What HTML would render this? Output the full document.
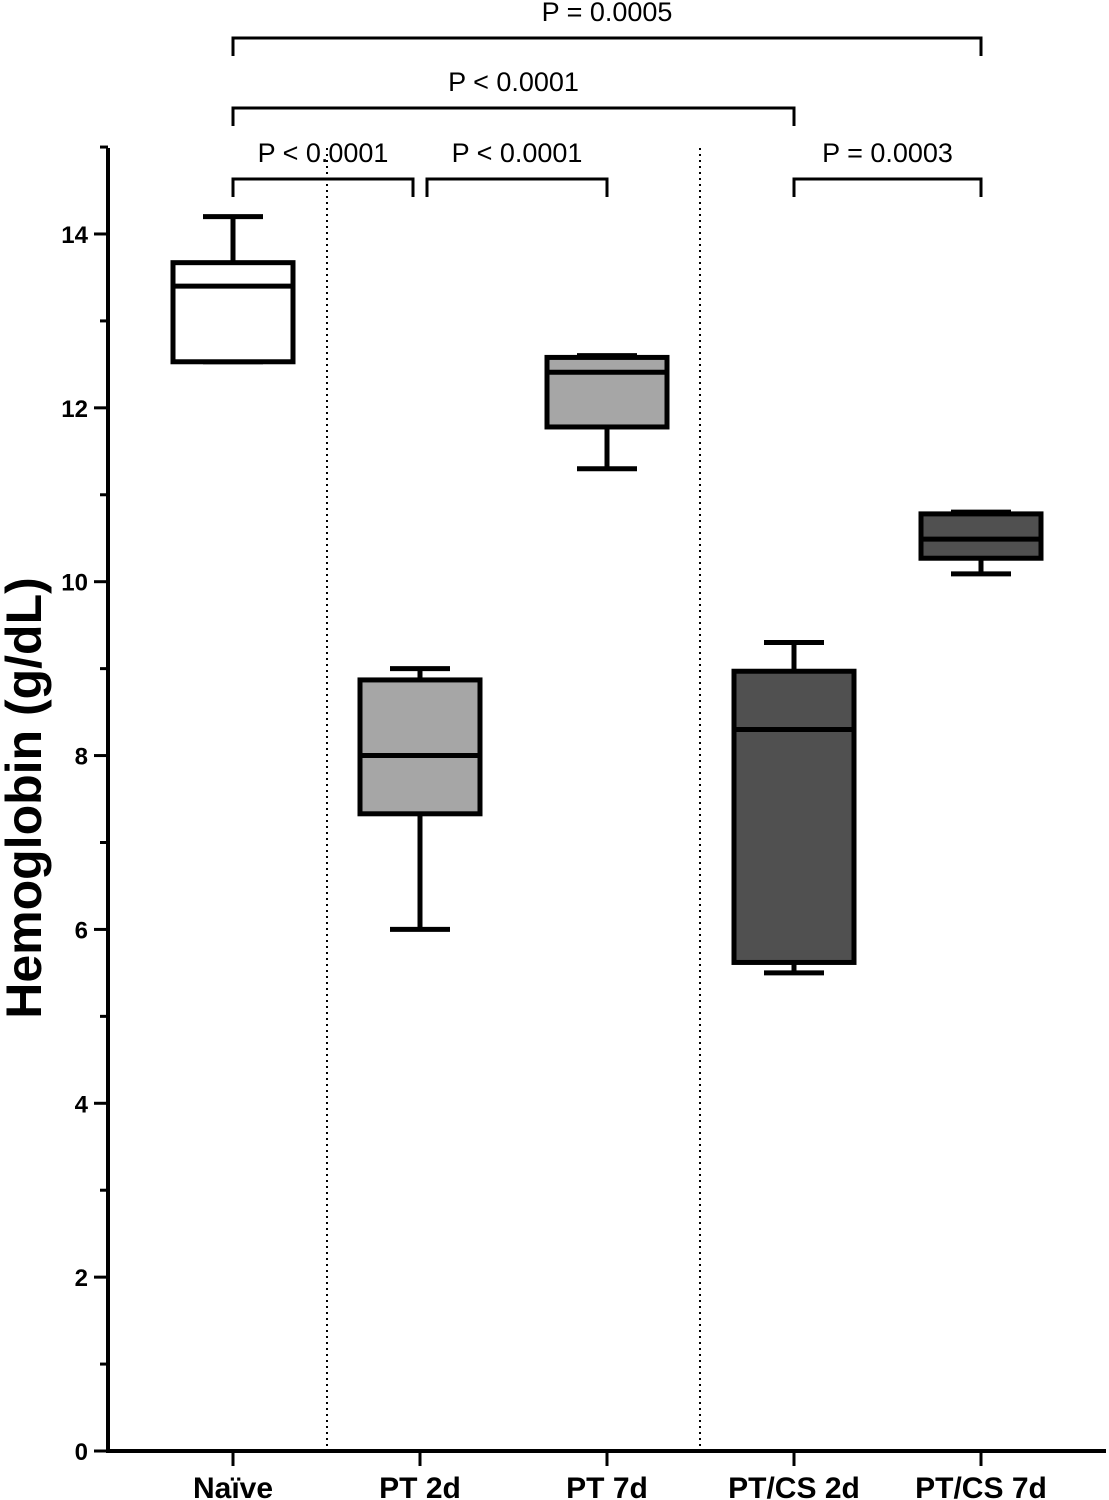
<!DOCTYPE html>
<html><head><meta charset="utf-8"><style>
html,body{margin:0;padding:0;background:#fff}
svg{display:block}
text{font-family:"Liberation Sans",Arial,sans-serif}
</style></head><body>
<svg id="chart" width="1109" height="1500" viewBox="0 0 1109 1500">
<g id="axes"></g><g id="boxes"></g><g id="sig"></g>
<text transform="translate(24,798) rotate(-90)" text-anchor="middle" dominant-baseline="central" font-size="50" font-weight="bold">Hemoglobin (g/dL)</text>
</svg>
<script>
const categories=["Naïve","PT 2d","PT 7d","PT/CS 2d","PT/CS 7d"];
const whiskerMax=[14.2,9.0,12.6,9.3,10.8];
const q3=[13.67,8.87,12.58,8.97,10.78];
const medians=[13.4,8.0,12.41,8.3,10.49];
const q1=[12.53,7.33,11.78,5.62,10.27];
const whiskerMin=[12.53,6.0,11.3,5.5,10.09];
const fills=["#ffffff","#a6a6a6","#a6a6a6","#505050","#505050"];
const yTicks=[0,2,4,6,8,10,12,14];
const comparisons=[[0,4,"P = 0.0005",0],[0,3,"P < 0.0001",1],[0,1,"P < 0.0001",2],[1,2,"P < 0.0001",2],[3,4,"P = 0.0003",2]];
const NS="http://www.w3.org/2000/svg";
const y=v=>1451-v*86.93;
const x=i=>233+i*187;
function mk(p,t,a){const e=document.createElementNS(NS,t);for(const k in a)e.setAttribute(k,a[k]);p.appendChild(e);return e;}
const ax=document.getElementById('axes');
let e=mk(ax,'line',{x1:108,y1:148,x2:108,y2:1452,stroke:'#000','stroke-width':4});


e=mk(ax,'line',{x1:106,y1:1451,x2:1106,y2:1451,stroke:'#000','stroke-width':4});


for(let v=0;v<=15;v++){const major=v%2===0;
 e=mk(ax,'line',{x1:major?94:100,y1:y(v),x2:108,y2:y(v),stroke:'#000','stroke-width':3});
 
 }
yTicks.forEach(v=>{e=mk(ax,'text',{x:88,y:y(v)+9,'text-anchor':'end','font-size':24,'font-weight':'bold'});e.textContent=v;
 
 });
[327,700].forEach(px=>{e=mk(ax,'line',{x1:px,y1:148,x2:px,y2:1451,stroke:'#000','stroke-width':2,'stroke-dasharray':'2,4'});
 
 });
categories.forEach((c,i)=>{
 e=mk(ax,'line',{x1:x(i),y1:1451,x2:x(i),y2:1466,stroke:'#000','stroke-width':3});
 
 
 e=mk(ax,'text',{x:x(i),y:1498,'text-anchor':'middle','font-size':30,'font-weight':'bold'});e.textContent=c;
 
 });
const bx=document.getElementById('boxes');
categories.forEach((c,i)=>{const g=mk(bx,'g',{stroke:'#000','stroke-width':5});
 
 
 mk(g,'line',{x1:x(i),y1:y(whiskerMax[i]),x2:x(i),y2:y(q3[i])});
 mk(g,'line',{x1:x(i)-30,y1:y(whiskerMax[i]),x2:x(i)+30,y2:y(whiskerMax[i])});
 mk(g,'line',{x1:x(i),y1:y(q1[i]),x2:x(i),y2:y(whiskerMin[i])});
 mk(g,'line',{x1:x(i)-30,y1:y(whiskerMin[i]),x2:x(i)+30,y2:y(whiskerMin[i])});
 mk(g,'rect',{x:x(i)-60,y:y(q3[i]),width:120,height:y(q1[i])-y(q3[i]),fill:fills[i]});
 mk(g,'line',{x1:x(i)-60,y1:y(medians[i]),x2:x(i)+60,y2:y(medians[i])});
});
const sg=document.getElementById('sig');
const rows=[38,108,179];
comparisons.forEach(([a,b,l,r])=>{const yy=rows[r];
 const xa=x(a)+(r===2&&a===1?7:0), xb=x(b)-(r===2&&b===1?7:0);
 e=mk(sg,'path',{d:`M${xa},${yy+18}V${yy}H${xb}V${yy+18}`,fill:'none',stroke:'#000','stroke-width':3});
 
 
 e=mk(sg,'text',{x:(xa+xb)/2,y:yy-17,'text-anchor':'middle','font-size':27});e.textContent=l;
 
 });
</script>
</body></html>
